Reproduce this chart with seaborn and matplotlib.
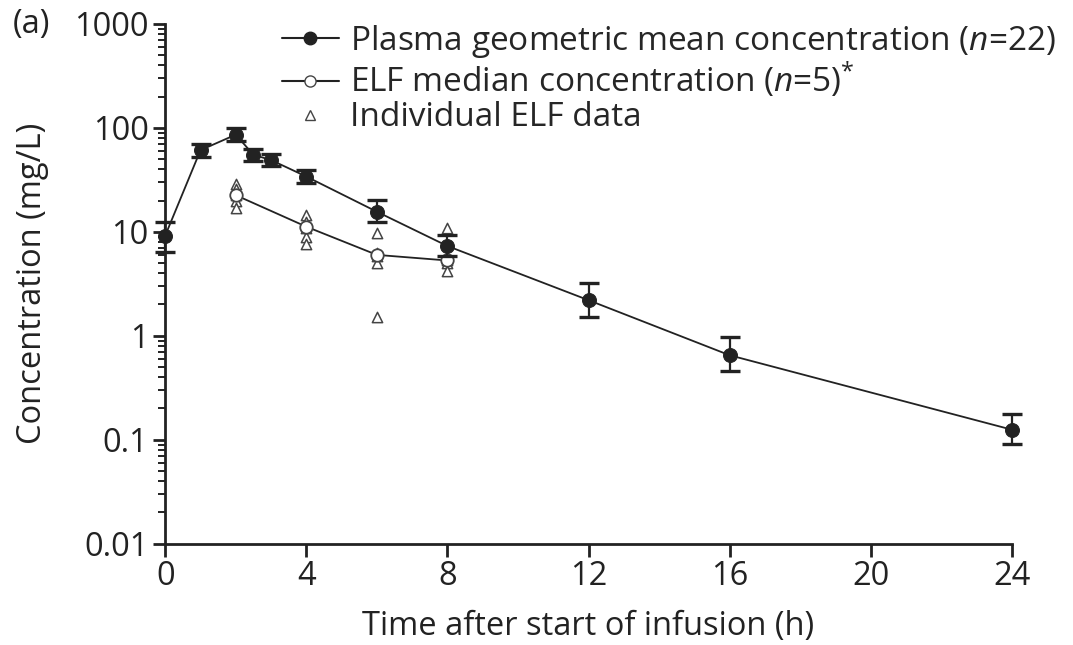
import numpy as np
import pandas as pd
import matplotlib
matplotlib.use("Agg")
import matplotlib.pyplot as plt
import seaborn as sns
from matplotlib.lines import Line2D
from matplotlib.ticker import LogLocator, FixedLocator, FixedFormatter, NullFormatter

# Data
plasma_time = [0, 1, 2, 2.5, 3, 4, 6, 8, 12, 16, 24]
plasma_conc = [9.2, 61, 86, 55, 49, 34, 15.6, 7.3, 2.2, 0.65, 0.125]
plasma_low = [6.4, 53, 74, 48, 43, 29.5, 12.5, 5.9, 1.5, 0.46, 0.092]
plasma_high = [12.5, 70, 100, 63, 56, 39, 20.4, 9.3, 3.2, 0.98, 0.178]

elf_time = [2, 4, 6, 8]
elf_median = [22.5, 11.2, 6.0, 5.3]

ind_time = [2, 2, 2, 2, 2, 4, 4, 4, 4, 4, 6, 6, 6, 6, 6, 8, 8, 8, 8, 8]
ind_conc = [29, 26, 22.5, 20, 17, 14.5, 12.5, 10.9, 9.0, 7.7,
            9.8, 6.2, 5.8, 5.0, 1.5, 11.0, 5.6, 5.3, 5.0, 4.2]

yticks = [0.01, 0.1, 1, 10, 100, 1000]
ytick_labels = ["0.01", "0.1", "1", "10", "100", "1000"]
xticks = [0, 4, 8, 12, 16, 20, 24]

sns.set_theme(style="ticks")
plt.rcParams['font.family'] = ['Open Sans', 'DejaVu Sans']
plt.rcParams['mathtext.fontset'] = 'custom'
plt.rcParams['mathtext.it'] = 'Open Sans:italic'
plt.rcParams['mathtext.rm'] = 'Open Sans'

FS = 23.5
fig = plt.figure(figsize=(10.73, 6.45), dpi=100)
ax = fig.add_axes([0.154, 0.157, 0.789, 0.806])

dfp = pd.DataFrame({"t": plasma_time, "c": plasma_conc})
dfe = pd.DataFrame({"t": elf_time, "c": elf_median})
dfi = pd.DataFrame({"t": ind_time, "c": ind_conc})

col = "#222222"
# individual ELF triangles
sns.scatterplot(data=dfi, x="t", y="c", ax=ax, marker="^", s=55,
                facecolor="white", edgecolor="#444444", linewidth=1.1, zorder=3, clip_on=False)
# ELF median
sns.lineplot(data=dfe, x="t", y="c", ax=ax, color=col, linewidth=1.3,
             marker="o", markersize=9, markerfacecolor="white", markeredgecolor="#444444",
             markeredgewidth=1.3, zorder=4, clip_on=False)
# Plasma error bars
yerr = np.array([np.array(plasma_conc) - np.array(plasma_low),
                 np.array(plasma_high) - np.array(plasma_conc)])
ax.errorbar(plasma_time, plasma_conc, yerr=yerr, fmt="none", ecolor=col,
            elinewidth=1.6, capsize=7, capthick=2.4, zorder=5, clip_on=False)
sns.lineplot(data=dfp, x="t", y="c", ax=ax, color=col, linewidth=1.3,
             marker="o", markersize=10, markerfacecolor=col, markeredgecolor=col,
             zorder=6, clip_on=False)

ax.set_yscale("log")
ax.set_ylim(0.01, 1000)
ax.set_xlim(0, 24)
ax.yaxis.set_major_locator(FixedLocator(yticks))
ax.yaxis.set_major_formatter(FixedFormatter(ytick_labels))
ax.yaxis.set_minor_locator(LogLocator(base=10, subs=np.arange(2, 10)))
ax.yaxis.set_minor_formatter(NullFormatter())
ax.set_xticks(xticks)
ax.set_xticklabels([str(x) for x in xticks])

for s in ["top", "right"]:
    ax.spines[s].set_visible(False)
for s in ["left", "bottom"]:
    ax.spines[s].set_linewidth(2.0)
    ax.spines[s].set_color(col)

ax.tick_params(axis="both", which="major", direction="out", length=9, width=2.0,
               labelsize=FS, colors=col, pad=3)
ax.tick_params(axis="y", which="minor", direction="out", length=5, width=1.4, colors=col)
ax.set_xlabel("Time after start of infusion (h)", fontsize=FS, color=col, labelpad=12)
ax.set_ylabel("Concentration (mg/L)", fontsize=FS, color=col, labelpad=18)
ax.grid(False)

handles = [
    Line2D([], [], color=col, lw=1.5, marker="o", markersize=9, markerfacecolor=col),
    Line2D([], [], color=col, lw=1.5, marker="o", markersize=8, markerfacecolor="white",
           markeredgecolor="#444444"),
    Line2D([], [], lw=0, marker="^", markersize=7, markerfacecolor="white",
           markeredgecolor="#444444"),
]
labels = [r"Plasma geometric mean concentration ($n$=22)",
          r"ELF median concentration ($n$=5)$^{*}$",
          "Individual ELF data"]
fig.legend(handles, labels, loc="upper left", bbox_to_anchor=(282 / 1073, 1 - 23 / 645),
           frameon=False, fontsize=24, handlelength=1.7, handletextpad=0.35,
           labelspacing=0.02, borderpad=0, borderaxespad=0)

fig.text(0.012, 1 - 25 / 645, "(a)", fontsize=FS, color=col, va="center", ha="left")

fig.savefig("out.png", dpi=100)
